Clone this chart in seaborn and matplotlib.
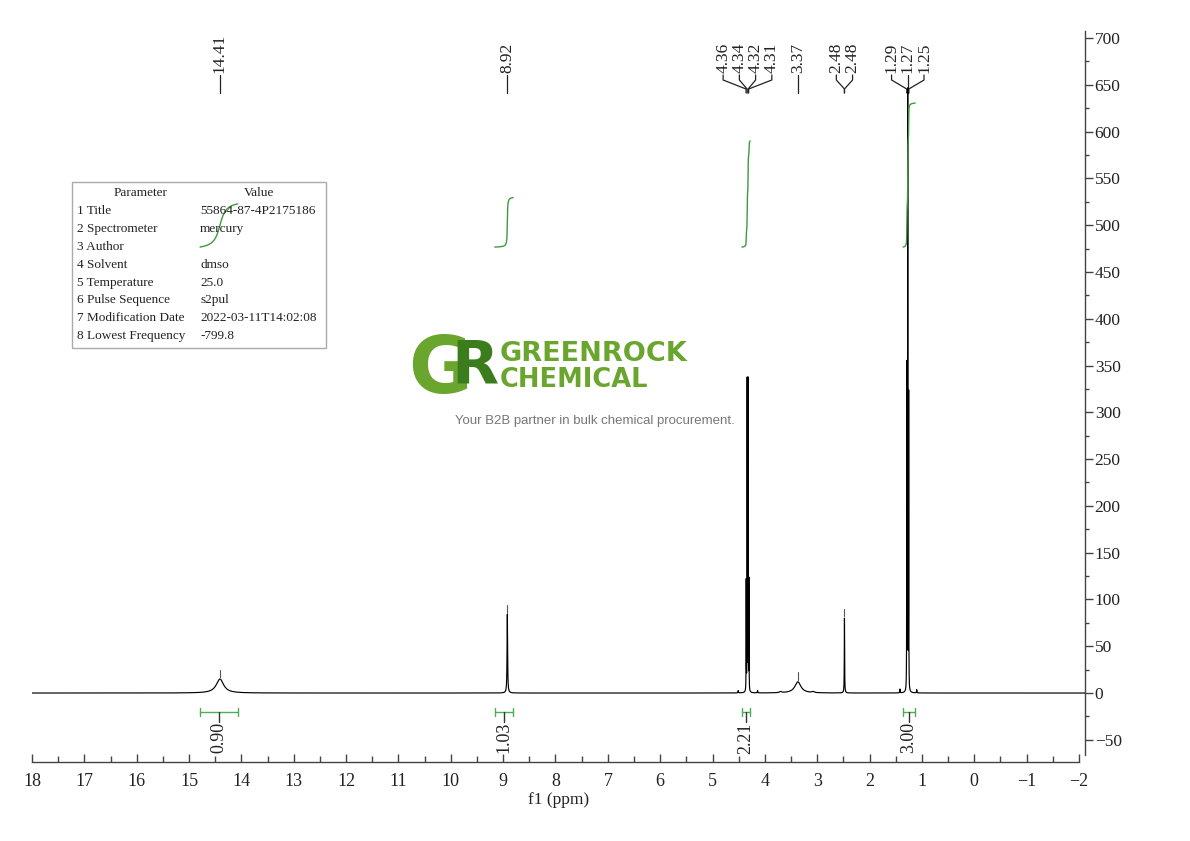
import numpy as np
import pandas as pd
import matplotlib
matplotlib.use("Agg")
import matplotlib.pyplot as plt
import matplotlib.transforms as mtransforms
from matplotlib.patches import Rectangle
from matplotlib.ticker import MultipleLocator
import seaborn as sns

# ---------------- data ----------------
# peak list: position (ppm), height (intensity), full width at half max (ppm)
peak_ppm = [14.41, 8.92, 4.357, 4.339, 4.321, 4.304, 3.37, 2.48,
            1.289, 1.271, 1.253, 4.51, 4.14, 1.42, 1.10, 3.70, 3.08]
peak_height = [15, 84, 118, 335, 335, 118, 12, 80,
               350, 645, 318, 2.5, 2.5, 4, 3.5, 1.2, 1.2]
peak_fwhm = [0.17, 0.012, 0.004, 0.004, 0.004, 0.004, 0.14, 0.007,
             0.004, 0.004, 0.004, 0.01, 0.01, 0.008, 0.008, 0.05, 0.05]

# peak-pick labels (text, ppm, group)
label_text = ["14.41", "8.92", "4.36", "4.34", "4.32", "4.31", "3.37",
              "2.48", "2.48", "1.29", "1.27", "1.25"]
label_ppm = [14.41, 8.92, 4.36, 4.34, 4.32, 4.31, 3.37, 2.48, 2.48, 1.29, 1.27, 1.25]
label_group = [0, 1, 2, 2, 2, 2, 3, 4, 4, 5, 5, 5]
marker_ppm = [14.41, 8.92, 3.37, 2.48]
marker_height = [15, 84, 12, 80]

# integrals
integ_from = [14.79, 9.16, 4.44, 1.36]
integ_to = [14.07, 8.81, 4.28, 1.13]
integ_value = [0.90, 1.03, 2.21, 3.00]
integ_labels = ["0.90", "1.03", "2.21", "3.00"]

# parameter table
param_names = ["1 Title", "2 Spectrometer", "3 Author", "4 Solvent", "5 Temperature",
               "6 Pulse Sequence", "7 Modification Date", "8 Lowest Frequency"]
param_values = ["55864-87-4P2175186", "mercury", "", "dmso", "25.0", "s2pul",
                "2022-03-11T14:02:08", "-799.8"]

x_ticks = list(range(-2, 19))
y_ticks = list(range(-50, 701, 50))

# ---------------- style ----------------
sns.set_style("ticks")
plt.rcParams["font.family"] = ["Liberation Serif", "DejaVu Serif"]
plt.rcParams["axes.linewidth"] = 1.0

W, H = 1190, 841
fig = plt.figure(figsize=(W / 100, H / 100), dpi=100)
fig.patch.set_facecolor("white")


def fx(px):
    return px / W


def fy(py):
    return 1 - py / H


ax_left, ax_right, ax_top, ax_bot = 32, 1085, 28, 762
ax = fig.add_axes([fx(ax_left), fy(ax_bot), fx(ax_right - ax_left), (ax_bot - ax_top) / H])
ax.set_facecolor("none")

# ---------------- spectrum ----------------
x = np.arange(18.0, -2.12, -0.0004)
y = np.zeros_like(x)
for p, h, w in zip(peak_ppm, peak_height, peak_fwhm):
    y += h / (1 + ((x - p) / (w / 2)) ** 2)
df = pd.DataFrame({"ppm": x, "intensity": y})
sns.lineplot(data=df, x="ppm", y="intensity", ax=ax, color="black", lw=0.85,
             estimator=None, sort=False, zorder=3)

# peak markers (small ticks above picked peaks)
for p, h in zip(marker_ppm, marker_height):
    ax.plot([p, p], [h + 2, h + 10], color="#555555", lw=0.8, zorder=3)

ax.set_xlim(18.0, -2.115)
ax.set_ylim(-73.7, 710.7)

# ---------------- integrals ----------------
px_per_unit = 734 / (710.7 + 73.7)
int_base = 476.6
unit_scale = 48 / px_per_unit
for f0, t0, val, lab in zip(integ_from, integ_to, integ_value, integ_labels):
    m = (x <= f0) & (x >= t0)
    cum = np.cumsum(y[m])
    cum = cum - cum[0]
    ax.plot(x[m], int_base + val * unit_scale * cum / cum[-1], color="#3d9b3d", lw=1.0, zorder=4)

    bar_y = -20.3
    cap = 4 / px_per_unit
    ax.plot([f0, t0], [bar_y, bar_y], color="#4caf50", lw=1.0)
    ax.plot([f0, f0], [bar_y - cap, bar_y + cap], color="#4caf50", lw=1.0)
    ax.plot([t0, t0], [bar_y - cap, bar_y + cap], color="#4caf50", lw=1.0)
    c = (f0 + t0) / 2
    ax.plot([c, c], [bar_y, bar_y - 10 / px_per_unit], color="#333333", lw=1.0)
    ax.text(c, bar_y - 10 / px_per_unit, lab, rotation=90, ha="center", va="top",
            fontsize=13, color="#222222")

# ---------------- peak labels ----------------
trans = mtransforms.blended_transform_factory(ax.transData, ax.transAxes)


def af(py):
    return (ax_bot - py) / (ax_bot - ax_top)


spacing = 0.31
groups = sorted(set(label_group))
for g in groups:
    idx = [i for i, gg in enumerate(label_group) if gg == g]
    n = len(idx)
    center = float(np.mean([label_ppm[i] for i in idx]))
    for k, i in enumerate(idx):
        lx = center + (n - 1) / 2 * spacing - k * spacing
        px = label_ppm[i]
        ax.text(lx, af(73), label_text[i], rotation=90, ha="center", va="bottom",
                fontsize=12.5, color="#222222", transform=trans)
        ax.plot([lx, lx, px, px], [af(75), af(80), af(89), af(93)], color="#222222",
                lw=0.9, transform=trans, clip_on=False)

# ---------------- axes styling ----------------
sns.despine(ax=ax, left=True, top=True, right=False, bottom=False)
ax.yaxis.tick_right()
ax.spines["right"].set_bounds(-66, 708)
ax.spines["bottom"].set_bounds(-2, 18)
for s in ("right", "bottom"):
    ax.spines[s].set_color("#444444")

ax.set_xticks(x_ticks)
ax.set_xticklabels(["\u2212" + str(-t) if t < 0 else str(t) for t in x_ticks])
ax.xaxis.set_minor_locator(MultipleLocator(0.5))
ax.set_yticks(y_ticks)
ax.set_yticklabels(["\u2212" + str(-t) if t < 0 else str(t) for t in y_ticks])
ax.yaxis.set_minor_locator(MultipleLocator(25))
ax.tick_params(axis="x", which="major", direction="in", length=6, width=1, color="#444444",
               labelsize=13, pad=8, labelcolor="#222222")
ax.tick_params(axis="x", which="minor", direction="in", length=4, width=1, color="#444444")
ax.tick_params(axis="y", which="major", direction="out", length=6, width=1, color="#444444",
               labelsize=12.5, pad=1, labelcolor="#222222", right=True, left=False)
ax.tick_params(axis="y", which="minor", direction="out", length=3, width=1, color="#444444",
               right=True, left=False)
ax.set_xlabel("f1 (ppm)", fontsize=12.5, color="#222222", labelpad=1)
ax.set_ylabel("")

# ---------------- parameter table ----------------
tbl = Rectangle((fx(72), fy(348)), fx(326 - 72), (348 - 182) / H, transform=fig.transFigure,
                fill=False, edgecolor="#aaaaaa", lw=1.0, zorder=1)
fig.patches.append(tbl)
fig.text(fx(141), fy(193), "Parameter", ha="center", va="center", fontsize=9.5, color="#222222")
fig.text(fx(259), fy(193), "Value", ha="center", va="center", fontsize=9.5, color="#222222")
for i, (nm, vl) in enumerate(zip(param_names, param_values)):
    yy = 211 + 17.9 * i
    fig.text(fx(77), fy(yy), nm, ha="left", va="center", fontsize=9.5, color="#222222")
    fig.text(fx(200), fy(yy), vl, ha="left", va="center", fontsize=9.5, color="#222222")

# ---------------- watermark ----------------
fig.text(fx(440), fy(371), "G", ha="center", va="center", fontsize=56, fontweight="bold",
         color="#6aa62e", family="DejaVu Sans", zorder=0)
fig.text(fx(475), fy(367), "R", ha="center", va="center", fontsize=44, fontweight="bold",
         color="#3b7d1d", family="DejaVu Sans", zorder=0)
fig.text(fx(500), fy(361), "GREENROCK", ha="left", va="baseline", fontsize=19.5,
         fontweight="bold", color="#6aa62e", family="DejaVu Sans", zorder=0)
fig.text(fx(500), fy(387), "CHEMICAL", ha="left", va="baseline", fontsize=18.5,
         fontweight="bold", color="#6aa62e", family="DejaVu Sans", zorder=0)
fig.text(fx(595), fy(421), "Your B2B partner in bulk chemical procurement.", ha="center",
         va="center", fontsize=9.5, color="#777777", family="Liberation Sans", zorder=0)

fig.savefig("out.png", dpi=100, facecolor="white")
